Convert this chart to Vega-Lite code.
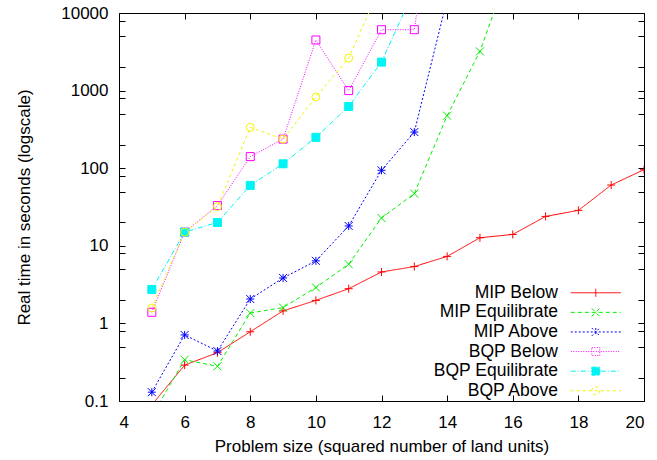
{
  "$schema": "https://vega.github.io/schema/vega-lite/v6.json",
  "width": 525,
  "height": 388,
  "autosize": {"type": "none"},
  "padding": {"left": 119, "top": 13, "right": 13, "bottom": 59},
  "background": "white",
  "config": {
    "font": "Liberation Sans",
    "view": {"stroke": "black", "strokeWidth": 1},
    "axis": {
      "domain": false,
      "grid": false,
      "tickColor": "black",
      "tickWidth": 1,
      "labelColor": "black",
      "titleColor": "black",
      "labelFontSize": 17,
      "titleFontSize": 17,
      "titleFontWeight": "normal",
      "labelFont": "Liberation Sans",
      "titleFont": "Liberation Sans"
    }
  },
  "data": {
    "values": [
      {"series": "MIP Below", "x": 5, "y": 0.089},
      {"series": "MIP Below", "x": 6, "y": 0.29},
      {"series": "MIP Below", "x": 7, "y": 0.42},
      {"series": "MIP Below", "x": 8, "y": 0.78},
      {"series": "MIP Below", "x": 9, "y": 1.45},
      {"series": "MIP Below", "x": 10, "y": 1.98},
      {"series": "MIP Below", "x": 11, "y": 2.8},
      {"series": "MIP Below", "x": 12, "y": 4.6},
      {"series": "MIP Below", "x": 13, "y": 5.4},
      {"series": "MIP Below", "x": 14, "y": 7.3},
      {"series": "MIP Below", "x": 15, "y": 12.7},
      {"series": "MIP Below", "x": 16, "y": 14.0},
      {"series": "MIP Below", "x": 17, "y": 23.9},
      {"series": "MIP Below", "x": 18, "y": 28.6},
      {"series": "MIP Below", "x": 19, "y": 60.7},
      {"series": "MIP Below", "x": 20, "y": 95.7},
      {"series": "MIP Equilibrate", "x": 5, "y": 0.064},
      {"series": "MIP Equilibrate", "x": 6, "y": 0.34},
      {"series": "MIP Equilibrate", "x": 7, "y": 0.28},
      {"series": "MIP Equilibrate", "x": 8, "y": 1.36},
      {"series": "MIP Equilibrate", "x": 9, "y": 1.6},
      {"series": "MIP Equilibrate", "x": 10, "y": 2.9},
      {"series": "MIP Equilibrate", "x": 11, "y": 5.8},
      {"series": "MIP Equilibrate", "x": 12, "y": 22.8},
      {"series": "MIP Equilibrate", "x": 13, "y": 47},
      {"series": "MIP Equilibrate", "x": 14, "y": 475},
      {"series": "MIP Equilibrate", "x": 15, "y": 3200},
      {"series": "MIP Equilibrate", "x": 16, "y": 49000},
      {"series": "MIP Above", "x": 5, "y": 0.13},
      {"series": "MIP Above", "x": 6, "y": 0.71},
      {"series": "MIP Above", "x": 7, "y": 0.44},
      {"series": "MIP Above", "x": 8, "y": 2.06},
      {"series": "MIP Above", "x": 9, "y": 3.85},
      {"series": "MIP Above", "x": 10, "y": 6.4},
      {"series": "MIP Above", "x": 11, "y": 18},
      {"series": "MIP Above", "x": 12, "y": 94},
      {"series": "MIP Above", "x": 13, "y": 292},
      {"series": "MIP Above", "x": 14, "y": 15000},
      {"series": "BQP Below", "x": 5, "y": 1.39},
      {"series": "BQP Below", "x": 6, "y": 15},
      {"series": "BQP Below", "x": 7, "y": 33},
      {"series": "BQP Below", "x": 8, "y": 141},
      {"series": "BQP Below", "x": 9, "y": 237},
      {"series": "BQP Below", "x": 10, "y": 4490},
      {"series": "BQP Below", "x": 11, "y": 1000},
      {"series": "BQP Below", "x": 12, "y": 6090},
      {"series": "BQP Below", "x": 13, "y": 6100},
      {"series": "BQP Below", "x": 14, "y": 5000000},
      {"series": "BQP Equilibrate", "x": 5, "y": 2.74},
      {"series": "BQP Equilibrate", "x": 6, "y": 15},
      {"series": "BQP Equilibrate", "x": 7, "y": 20},
      {"series": "BQP Equilibrate", "x": 8, "y": 60},
      {"series": "BQP Equilibrate", "x": 9, "y": 114},
      {"series": "BQP Equilibrate", "x": 10, "y": 250},
      {"series": "BQP Equilibrate", "x": 11, "y": 625},
      {"series": "BQP Equilibrate", "x": 12, "y": 2330},
      {"series": "BQP Equilibrate", "x": 13, "y": 20000},
      {"series": "BQP Above", "x": 5, "y": 1.58},
      {"series": "BQP Above", "x": 6, "y": 15},
      {"series": "BQP Above", "x": 7, "y": 32},
      {"series": "BQP Above", "x": 8, "y": 336},
      {"series": "BQP Above", "x": 9, "y": 237},
      {"series": "BQP Above", "x": 10, "y": 828},
      {"series": "BQP Above", "x": 11, "y": 2630},
      {"series": "BQP Above", "x": 12, "y": 23600}
    ]
  },
  "layer": [
    {
      "mark": {"type": "line", "clip": true, "strokeWidth": 1},
      "encoding": {
        "x": {
          "field": "x", "type": "quantitative",
          "scale": {"domain": [4, 20], "nice": false, "zero": false},
          "axis": {
            "values": [4, 6, 8, 10, 12, 14, 16, 18, 20],
            "tickSize": -6,
            "labelPadding": 19,
            "title": "Problem size (squared number of land units)",
            "titlePadding": 8
          }
        },
        "y": {
          "field": "y", "type": "quantitative",
          "scale": {"type": "log", "domain": [0.1, 10000], "nice": false},
          "axis": {
            "values": [0.1, 0.2, 0.5, 0.8, 1, 2, 5, 8, 10, 20, 50, 80, 100, 200, 500, 800, 1000, 2000, 5000, 8000, 10000],
            "tickSize": -6,
            "labelPadding": 17,
            "labelExpr": "abs(log(datum.value)/LN10 - round(log(datum.value)/LN10)) < 0.01 ? format(datum.value, '~g') : ''",
            "title": "Real time in seconds (logscale)",
            "titlePadding": 27,
            "encode": {"ticks": {"update": {"x2": {"signal": "abs(log(datum.value)/LN10 - round(log(datum.value)/LN10)) < 0.01 ? 6 : 3"}}}}
          }
        },
        "color": {
          "field": "series", "type": "nominal",
          "scale": {
            "domain": ["MIP Below", "MIP Equilibrate", "MIP Above", "BQP Below", "BQP Equilibrate", "BQP Above"],
            "range": ["#FF0000", "#00F000", "#0000FF", "#FF00FF", "#00F4F4", "#F4F400"]
          },
          "legend": {
            "orient": "none",
            "legendX": 468,
            "legendY": 271,
            "title": null,
            "symbolType": "stroke",
            "symbolSize": 64,
            "symbolStrokeWidth": 1,
            "labelAlign": "right",
            "labelOffset": -46.5,
            "labelFontSize": 17.5,
            "labelColor": "black",
            "labelLimit": 0,
            "rowPadding": 0.6,
            "encode": {
              "symbols": {
                "update": {
                  "shape": {"signal": "datum.value === 'MIP Below' ? 'M-6.25,0H6.25M0,-1V1' : datum.value === 'MIP Equilibrate' ? 'M-6.25,0H6.25M-1,-1L1,1M-1,1L1,-1' : datum.value === 'MIP Above' ? 'M-6.25,0H6.25M0,-1V1M-1,-1L1,1M-1,1L1,-1' : datum.value === 'BQP Above' ? 'M-6.25,0H6.25M1,0A1,1,0,1,1,-1,0A1,1,0,1,1,1,0' : 'M-6.25,0H6.25M-1,-1H1V1H-1Z'"},
                  "strokeDash": {"signal": "datum.value === 'MIP Below' ? [] : datum.value === 'MIP Equilibrate' ? [4,3] : datum.value === 'MIP Above' ? [2,2] : datum.value === 'BQP Below' ? [1,1.5] : datum.value === 'BQP Equilibrate' ? [5,2,1,2] : [3,3]"},
                  "fill": {"signal": "datum.value === 'BQP Equilibrate' ? '#00F4F4' : 'transparent'"},
                  "opacity": {"value": 1}
                }
              }
            }
          }
        },
        "strokeDash": {
          "field": "series", "type": "nominal",
          "scale": {
            "domain": ["MIP Below", "MIP Equilibrate", "MIP Above", "BQP Below", "BQP Equilibrate", "BQP Above"],
            "range": [[1, 0], [4, 3], [2, 2], [1, 1.5], [5, 2, 1, 2], [3, 3]]
          },
          "legend": null
        }
      }
    },
    {
      "mark": {"type": "point", "clip": true, "filled": false, "size": 64, "strokeWidth": 1, "opacity": 1},
      "encoding": {
        "x": {"field": "x", "type": "quantitative", "axis": null},
        "y": {"field": "y", "type": "quantitative", "axis": null},
        "color": {"field": "series", "type": "nominal", "legend": null},
        "shape": {
          "field": "series", "type": "nominal",
          "scale": {
            "domain": ["BQP Above", "BQP Equilibrate", "BQP Below", "MIP Above", "MIP Equilibrate", "MIP Below"],
            "range": ["circle", "M-1,-1H1V1H-1Z", "M-1,-1H1V1H-1Z", "M-1,0H1M0,-1V1M-1,-1L1,1M-1,1L1,-1", "M-1,-1L1,1M-1,1L1,-1", "M-1,0H1M0,-1V1"]
          },
          "legend": {
            "orient": "none",
            "legendX": 0,
            "legendY": 0,
            "title": null,
            "symbolOpacity": 0,
            "labelOpacity": 0,
            "symbolSize": 1,
            "labelFontSize": 1
          }
        },
        "fill": {
          "field": "series", "type": "nominal",
          "scale": {
            "domain": ["MIP Below", "MIP Equilibrate", "MIP Above", "BQP Below", "BQP Equilibrate", "BQP Above"],
            "range": ["transparent", "transparent", "transparent", "transparent", "#00F4F4", "transparent"]
          },
          "legend": null
        }
      }
    },
    {
      "mark": {"type": "point", "opacity": 0, "clip": true},
      "encoding": {
        "x": {
          "field": "x", "type": "quantitative",
          "axis": {"orient": "top", "values": [4, 6, 8, 10, 12, 14, 16, 18, 20], "tickSize": -6, "labels": false, "title": null}
        },
        "y": {
          "field": "y", "type": "quantitative",
          "axis": {
            "orient": "right",
            "values": [0.1, 0.2, 0.5, 0.8, 1, 2, 5, 8, 10, 20, 50, 80, 100, 200, 500, 800, 1000, 2000, 5000, 8000, 10000],
            "tickSize": -6, "labels": false, "title": null,
            "encode": {"ticks": {"update": {"x2": {"signal": "abs(log(datum.value)/LN10 - round(log(datum.value)/LN10)) < 0.01 ? -6 : -3"}}}}
          }
        }
      }
    }
  ],
  "resolve": {"axis": {"x": "independent", "y": "independent"}}
}
